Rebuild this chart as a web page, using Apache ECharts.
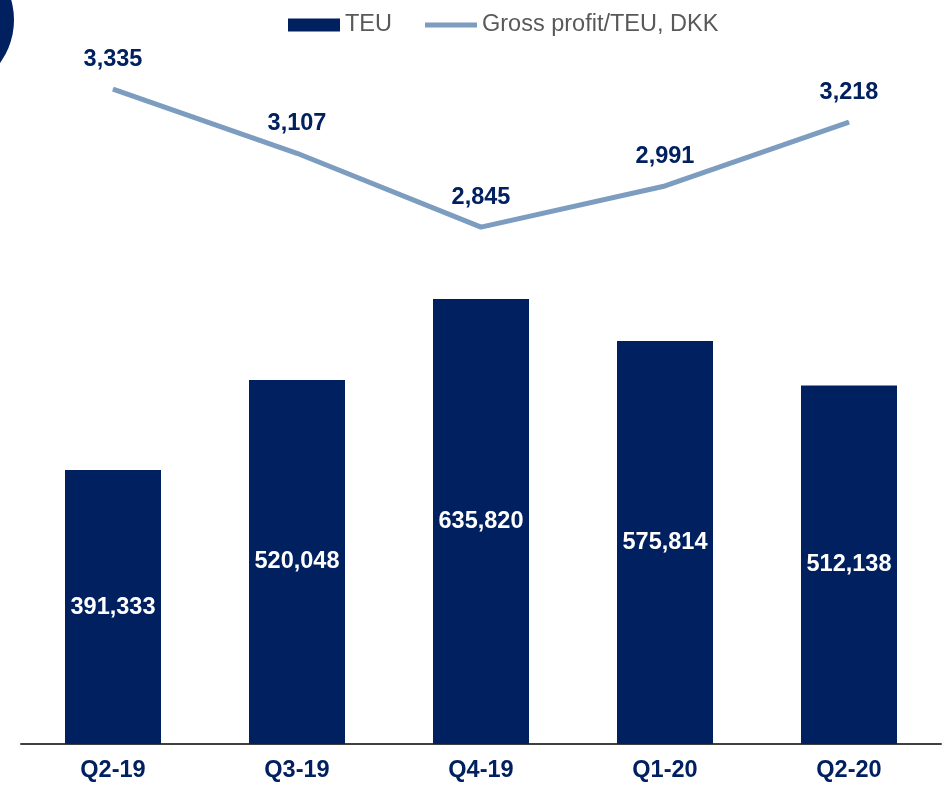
<!DOCTYPE html>
<html>
<head>
<meta charset="utf-8">
<style>
  html, body { margin: 0; padding: 0; background: #fff; }
  #chart { width: 951px; height: 787px; }
</style>
<script src="https://cdn.jsdelivr.net/npm/echarts@6/dist/echarts.min.js"></script>
</head>
<body>
<div id="chart"></div>
<script>
var categories = ['Q2-19', 'Q3-19', 'Q4-19', 'Q1-20', 'Q2-20'];
var teuValues = [391333, 520048, 635820, 575814, 512138];
var grossProfitPerTeu = [3335, 3107, 2845, 2991, 3218];

var navy = '#002060';
var steel = '#7C9CC0';
var fontFamily = 'Liberation Sans, Arial, sans-serif';
var labelSize = 23.5;

// thin bar inside a 52x13 box, used as the legend icon of the line
var lineIcon = 'path://M0,0 L0.01,0 L0.01,0.01 Z M0,4 L52,4 L52,9 L0,9 Z M0,13 L0.01,13 L0.01,12.99 Z';

var myChart = echarts.init(document.getElementById('chart'));

var option = {
    animation: false,
    textStyle: { fontFamily: fontFamily },
    graphic: [
        {
            type: 'circle',
            shape: { cx: -59, cy: 20, r: 73 },
            style: { fill: navy }
        }
    ],
    legend: {
        top: 8,
        left: 283,
        itemWidth: 52,
        itemHeight: 13,
        itemGap: 33,
        textStyle: { color: '#595959', fontSize: labelSize, fontFamily: fontFamily },
        data: [
            { name: 'TEU', icon: 'rect' },
            { name: 'Gross profit/TEU, DKK', icon: lineIcon, itemStyle: { color: steel } }
        ]
    },
    grid: { left: 21, right: 10, top: 44, bottom: 43 },
    xAxis: {
        type: 'category',
        data: categories,
        axisLine: { show: true, lineStyle: { color: '#404040', width: 2 } },
        axisTick: { show: false },
        axisLabel: {
            color: navy,
            fontSize: labelSize,
            fontWeight: 'bold',
            margin: 15
        }
    },
    yAxis: [
        {
            type: 'value',
            min: 0,
            max: 1000000,
            show: false,
            splitLine: { show: false }
        },
        {
            type: 'value',
            min: 1010,
            max: 3495,
            show: false,
            splitLine: { show: false }
        }
    ],
    series: [
        {
            name: 'TEU',
            type: 'bar',
            data: teuValues,
            barWidth: 96,
            itemStyle: { color: navy },
            label: {
                show: true,
                position: 'inside',
                color: '#fff',
                fontSize: labelSize,
                fontWeight: 'bold',
                formatter: function (p) { return p.value.toLocaleString('en-US'); }
            }
        },
        {
            name: 'Gross profit/TEU, DKK',
            type: 'line',
            yAxisIndex: 1,
            data: grossProfitPerTeu,
            symbol: 'circle',
            symbolSize: 1,
            lineStyle: { color: steel, width: 5 },
            itemStyle: { color: steel },
            label: {
                show: true,
                position: 'top',
                distance: 17,
                color: navy,
                fontSize: labelSize,
                fontWeight: 'bold',
                formatter: function (p) { return p.value.toLocaleString('en-US'); }
            }
        }
    ]
};

myChart.setOption(option);
</script>
</body>
</html>
